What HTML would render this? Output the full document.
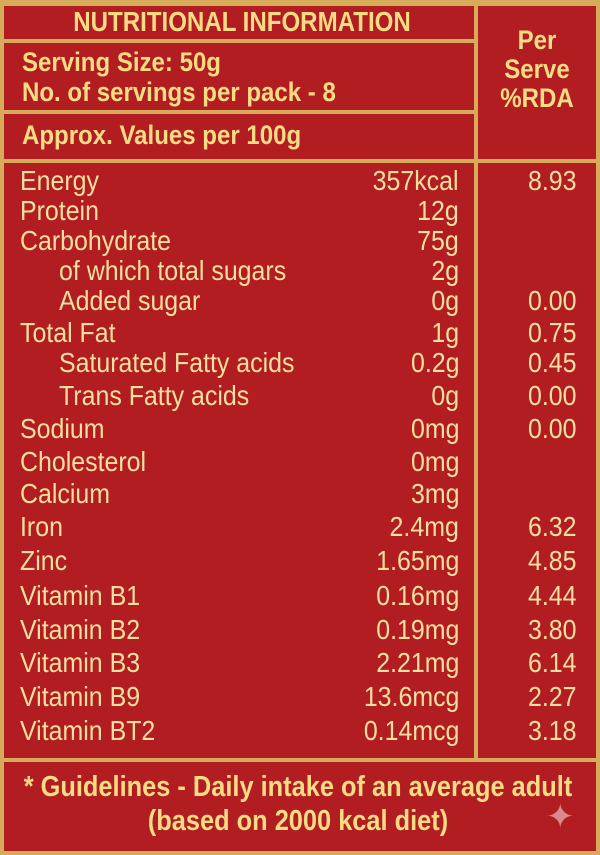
<!DOCTYPE html>
<html><head><meta charset="utf-8"><style>
html,body{margin:0;padding:0;}
body{width:600px;height:855px;background:#d6ab5a;position:relative;overflow:hidden;font-family:"Liberation Sans",sans-serif;}
.box{position:absolute;background:#b21d22;}
.h{position:absolute;color:#f7dc86;font-weight:bold;font-size:27px;white-space:nowrap;line-height:1;transform:scaleX(0.89);transform-origin:left center;}
.c{transform-origin:center center;}
.r{position:absolute;color:#f6dfa0;font-size:28px;line-height:1;white-space:nowrap;transform:scaleX(0.89);transform-origin:left center;}
.v{position:absolute;right:141px;color:#f6dfa0;font-size:28px;line-height:1;white-space:nowrap;transform:scaleX(0.89);transform-origin:right center;}
.p{position:absolute;right:24px;color:#f6dfa0;font-size:28px;line-height:1;white-space:nowrap;transform:scaleX(0.89);transform-origin:right center;}
</style></head><body>
<div class="box" style="left:4px;top:6px;width:470px;height:33px"></div>
<div class="box" style="left:4px;top:43px;width:470px;height:67px"></div>
<div class="box" style="left:4px;top:114px;width:470px;height:45px"></div>
<div class="box" style="left:478px;top:6px;width:118px;height:153px"></div>
<div class="box" style="left:4px;top:163px;width:470px;height:595px"></div>
<div class="box" style="left:478px;top:163px;width:118px;height:595px"></div>
<div class="box" style="left:4px;top:762px;width:592px;height:89px"></div>

<div class="h c" style="left:-58px;width:600px;text-align:center;top:8px;font-size:28px;transform:scaleX(0.86)">NUTRITIONAL INFORMATION</div>
<div class="h" style="left:22px;top:49px">Serving Size: 50g</div>
<div class="h" style="left:22px;top:79px">No. of servings per pack - 8</div>
<div class="h" style="left:22px;top:122px">Approx. Values per 100g</div>
<div class="h c" style="left:478px;width:118px;text-align:center;top:26px;line-height:29px;font-size:27px">Per<br>Serve<br>%RDA</div>

<div class="r" style="left:20px;top:167px">Energy</div><div class="v" style="top:167px">357kcal</div><div class="p" style="top:167px">8.93</div>
<div class="r" style="left:20px;top:197px">Protein</div><div class="v" style="top:197px">12g</div>
<div class="r" style="left:20px;top:227px">Carbohydrate</div><div class="v" style="top:227px">75g</div>
<div class="r" style="left:59px;top:257px">of which total sugars</div><div class="v" style="top:257px">2g</div>
<div class="r" style="left:59px;top:287px">Added sugar</div><div class="v" style="top:287px">0g</div><div class="p" style="top:287px">0.00</div>
<div class="r" style="left:20px;top:319px">Total Fat</div><div class="v" style="top:319px">1g</div><div class="p" style="top:319px">0.75</div>
<div class="r" style="left:59px;top:349px">Saturated Fatty acids</div><div class="v" style="top:349px">0.2g</div><div class="p" style="top:349px">0.45</div>
<div class="r" style="left:59px;top:382px">Trans Fatty acids</div><div class="v" style="top:382px">0g</div><div class="p" style="top:382px">0.00</div>
<div class="r" style="left:20px;top:415px">Sodium</div><div class="v" style="top:415px">0mg</div><div class="p" style="top:415px">0.00</div>
<div class="r" style="left:20px;top:448px">Cholesterol</div><div class="v" style="top:448px">0mg</div>
<div class="r" style="left:20px;top:480px">Calcium</div><div class="v" style="top:480px">3mg</div>
<div class="r" style="left:20px;top:513px">Iron</div><div class="v" style="top:513px">2.4mg</div><div class="p" style="top:513px">6.32</div>
<div class="r" style="left:20px;top:547px">Zinc</div><div class="v" style="top:547px">1.65mg</div><div class="p" style="top:547px">4.85</div>
<div class="r" style="left:20px;top:582px">Vitamin B1</div><div class="v" style="top:582px">0.16mg</div><div class="p" style="top:582px">4.44</div>
<div class="r" style="left:20px;top:616px">Vitamin B2</div><div class="v" style="top:616px">0.19mg</div><div class="p" style="top:616px">3.80</div>
<div class="r" style="left:20px;top:649px">Vitamin B3</div><div class="v" style="top:649px">2.21mg</div><div class="p" style="top:649px">6.14</div>
<div class="r" style="left:20px;top:683px">Vitamin B9</div><div class="v" style="top:683px">13.6mcg</div><div class="p" style="top:683px">2.27</div>
<div class="r" style="left:20px;top:717px">Vitamin BT2</div><div class="v" style="top:717px">0.14mcg</div><div class="p" style="top:717px">3.18</div>

<div class="h c" style="left:-102px;width:800px;text-align:center;top:773px;font-size:29px;transform:scaleX(0.875)">* Guidelines - Daily intake of an average adult</div>
<div class="h c" style="left:-102px;width:800px;text-align:center;top:807px;font-size:29px;transform:scaleX(0.875)">(based on 2000 kcal diet)</div>
<div style="position:absolute;left:546px;top:800px;color:#d98a8e;font-size:34px;line-height:1">✦</div>
</body></html>
